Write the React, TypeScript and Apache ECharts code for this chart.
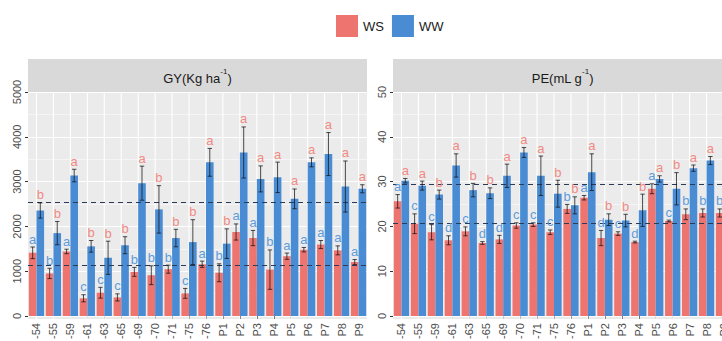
import React, { useEffect, useRef } from "react";
import * as echarts from "echarts";

const categories = ["-54", "-55", "-59", "-61", "-63", "-65", "-69", "-70", "-71", "-75", "-76", "P1", "P2", "P3", "P4", "P5", "P6", "P7", "P8", "P9"];

const gyWS = [1410, 950, 1440, 395, 520, 415, 985, 910, 1045, 505, 1155, 965, 1875, 1740, 1035, 1335, 1480, 1595, 1465, 1205];
const gyWSse = [130, 115, 50, 80, 120, 80, 100, 210, 90, 110, 70, 200, 180, 170, 440, 70, 50, 90, 100, 55];
const gyWSLetters = ["a", "b", "a", "c", "c", "c", "b", "b", "b", "c", "a", "b", "a", "a", "b", "a", "a", "a", "a", "a"];
const gyWW = [2355, 1850, 3135, 1555, 1300, 1580, 2965, 2380, 1740, 1650, 3430, 1615, 3650, 3060, 3095, 2615, 3430, 3615, 2890, 2840];
const gyWWse = [170, 260, 140, 130, 370, 190, 380, 530, 195, 500, 310, 330, 570, 290, 340, 220, 100, 480, 570, 90];
const gyWWLetters = ["b", "b", "a", "b", "b", "b", "a", "b", "b", "b", "a", "b", "a", "a", "a", "a", "a", "a", "a", "a"];
const gyMeanWS = 1133;
const gyMeanWW = 2541;

const peWS = [25.6, 20.6, 18.7, 16.9, 18.9, 16.3, 17.1, 20.2, 20.4, 18.7, 23.9, 26.4, 17.4, 18.4, 16.5, 28.4, 21.2, 22.7, 23.0, 23.0];
const peWSse = [1.5, 2.2, 1.7, 1.0, 1.0, 0.3, 0.9, 0.6, 0.4, 0.5, 1.0, 0.5, 1.7, 0.4, 0.2, 1.1, 0.2, 1.2, 0.9, 0.9];
const peWSLetters = ["a", "c", "c", "d", "c", "d", "d", "c", "c", "c", "b", "a", "d", "c", "d", "a", "c", "b", "b", "b"];
const peWW = [30.2, 29.1, 27.1, 33.6, 28.1, 27.4, 31.3, 36.5, 31.3, 27.3, 24.7, 32.1, 21.5, 21.3, 23.6, 30.6, 28.4, 33.0, 34.7, 32.5];
const peWWse = [0.5, 1.0, 1.0, 2.6, 1.5, 1.2, 2.6, 1.1, 4.4, 3.0, 1.9, 4.1, 1.3, 1.4, 3.6, 0.7, 3.6, 0.7, 0.9, 0.8];
const peWWLetters = ["a", "a", "b", "a", "b", "b", "a", "a", "a", "b", "b", "a", "b", "b", "b", "a", "b", "a", "a", "a"];
const peMeanWS = 20.8;
const peMeanWW = 29.3;

const gyTicks = { min: 0, max: 5000, interval: 1000 };
const peTicks = { min: 0, max: 50, interval: 10 };

const RED = "#EE7470";
const BLUE = "#4A8CD4";
const RED_TXT = "#F08A84";
const BLUE_TXT = "#5E9BDA";
const MEAN_LINE = "#2B3A55";
const FONT = "Liberation Sans, Arial, Helvetica, sans-serif";

const PANEL_TOP = 92;
const PANEL_H = 224;
const PANEL_W = 339;
const LEFTS = [28, 393];

function errSeries(g: number, values: number[], ses: number[], letters: string[], side: number, txtColor: string) {
  return {
    type: "custom",
    name: "err" + g + side,
    xAxisIndex: g,
    yAxisIndex: g,
    z: 5,
    silent: true,
    data: values.map((v, i) => [i, v, ses[i]]),
    renderItem: (params: any, api: any) => {
      const i = api.value(0);
      const v = api.value(1);
      const se = api.value(2);
      const band = api.size([1, 0])[0];
      const x = api.coord([i, v])[0] + side * band * 0.225;
      const yT = api.coord([i, v + se])[1];
      const yB = api.coord([i, v - se])[1];
      const cap = 2.2;
      const st = { stroke: "rgba(20,20,20,0.75)", lineWidth: 1 };
      return {
        type: "group",
        children: [
          { type: "line", shape: { x1: x, y1: yT, x2: x, y2: yB }, style: st },
          { type: "line", shape: { x1: x - cap, y1: yT, x2: x + cap, y2: yT }, style: st },
          { type: "line", shape: { x1: x - cap, y1: yB, x2: x + cap, y2: yB }, style: st },
          {
            type: "text",
            x: x,
            y: yT - 8,
            style: {
              text: letters[params.dataIndex],
              fill: txtColor,
              fontSize: 13,
              fontFamily: FONT,
              align: "center",
              verticalAlign: "middle",
            },
          },
        ],
      };
    },
  };
}

function vGridSeries(g: number) {
  return {
    type: "custom",
    name: "vg" + g,
    xAxisIndex: g,
    yAxisIndex: g,
    z: 1,
    silent: true,
    data: categories.map((_, i) => [i, 0]),
    renderItem: (params: any, api: any) => {
      const x = api.coord([api.value(0), 0])[0];
      const cs = params.coordSys;
      return {
        type: "line",
        shape: { x1: x, y1: cs.y, x2: x, y2: cs.y + cs.height + 3 },
        style: { stroke: "#FFFFFF", lineWidth: 1.1 },
      };
    },
  };
}

function barSeries(g: number, name: string, data: number[], color: string, mean: number) {
  return {
    type: "bar",
    name,
    xAxisIndex: g,
    yAxisIndex: g,
    z: 2,
    data,
    itemStyle: { color },
    barGap: "0%",
    barCategoryGap: "10%",
    markLine: {
      silent: true,
      symbol: ["none", "none"],
      label: { show: false },
      lineStyle: { type: [5, 4], color: MEAN_LINE, width: 1 },
      data: [{ yAxis: mean }],
      z: 4,
    },
  };
}

function yAxis(g: number, t: { min: number; max: number; interval: number }) {
  return {
    type: "value",
    gridIndex: g,
    min: t.min,
    max: t.max,
    interval: t.interval,
    axisLine: { show: false },
    axisTick: { show: true, length: 3, lineStyle: { color: "#333333" } },
    axisLabel: {
      rotate: 90,
      color: "#4D4D4D",
      fontSize: 11,
      margin: 6,
      fontFamily: FONT,
      formatter: (v: number) => String(v),
    },
    splitLine: { show: true, lineStyle: { color: "#FFFFFF", width: 1.1 } },
    minorTick: { show: false, splitNumber: 2 },
    minorSplitLine: { show: true, lineStyle: { color: "#FFFFFF", width: 0.5 } },
  };
}

function xAxis(g: number) {
  return {
    type: "category",
    gridIndex: g,
    data: categories,
    offset: 3,
    axisLine: { show: false },
    axisTick: { show: true, alignWithLabel: true, length: 3, lineStyle: { color: "#333333" } },
    axisLabel: { rotate: 90, color: "#4D4D4D", fontSize: 11, margin: 4, interval: 0, fontFamily: FONT },
    splitLine: { show: false },
  };
}

function stripTitle(x: number, main: string) {
  return {
    type: "text",
    x,
    y: 76,
    z: 10,
    style: {
      text: "{a|" + main + "}{s|-1}{a|)}",
      align: "center",
      verticalAlign: "middle",
      fill: "#1A1A1A",
      rich: {
        a: { fontSize: 13, lineHeight: 18, fontFamily: FONT, fill: "#1A1A1A", verticalAlign: "bottom" },
        s: { fontSize: 8, lineHeight: 10, fontFamily: FONT, fill: "#1A1A1A", verticalAlign: "top" },
      },
    },
  };
}

export default function App() {
  const ref = useRef<HTMLDivElement>(null);
  useEffect(() => {
    if (!ref.current) return;
    const chart = echarts.init(ref.current, null, { renderer: "svg" });
    const option: any = {
      animation: false,
      backgroundColor: "#FFFFFF",
      textStyle: { fontFamily: FONT },
      legend: {
        data: ["WS", "WW"],
        left: 331,
        top: 10,
        itemWidth: 22,
        itemHeight: 22,
        itemGap: 8,
        icon: "rect",
        selectedMode: false,
        textStyle: { fontSize: 13, color: "#1A1A1A", fontFamily: FONT },
      },
      grid: LEFTS.map((l) => ({
        left: l,
        top: PANEL_TOP,
        width: PANEL_W,
        height: PANEL_H,
        show: true,
        backgroundColor: "#EBEBEB",
        borderWidth: 0,
        containLabel: false,
        outerBoundsMode: "none",
      })),
      xAxis: [xAxis(0), xAxis(1)],
      yAxis: [yAxis(0, gyTicks), yAxis(1, peTicks)],
      graphic: [
        { type: "rect", shape: { x: LEFTS[0], y: 59, width: PANEL_W, height: 33 }, style: { fill: "#D9D9D9" } },
        { type: "rect", shape: { x: LEFTS[1], y: 59, width: PANEL_W, height: 33 }, style: { fill: "#D9D9D9" } },
        { type: "rect", shape: { x: LEFTS[0], y: PANEL_TOP + PANEL_H, width: PANEL_W, height: 3 }, style: { fill: "#EBEBEB" } },
        { type: "rect", shape: { x: LEFTS[1], y: PANEL_TOP + PANEL_H, width: PANEL_W, height: 3 }, style: { fill: "#EBEBEB" } },
        stripTitle(LEFTS[0] + PANEL_W / 2, "GY(Kg ha"),
        stripTitle(LEFTS[1] + PANEL_W / 2, "PE(mL g"),
      ],
      series: [
        vGridSeries(0),
        vGridSeries(1),
        barSeries(0, "WS", gyWS, RED, gyMeanWS),
        barSeries(0, "WW", gyWW, BLUE, gyMeanWW),
        barSeries(1, "WS", peWS, RED, peMeanWS),
        barSeries(1, "WW", peWW, BLUE, peMeanWW),
        errSeries(0, gyWS, gyWSse, gyWSLetters, -1, BLUE_TXT),
        errSeries(0, gyWW, gyWWse, gyWWLetters, 1, RED_TXT),
        errSeries(1, peWS, peWSse, peWSLetters, -1, BLUE_TXT),
        errSeries(1, peWW, peWWse, peWWLetters, 1, RED_TXT),
      ],
    };
    chart.setOption(option);
    return () => chart.dispose();
  }, []);
  return <div ref={ref} style={{ position: "absolute", left: 0, top: 0, width: 722, height: 341 }} />;
}
